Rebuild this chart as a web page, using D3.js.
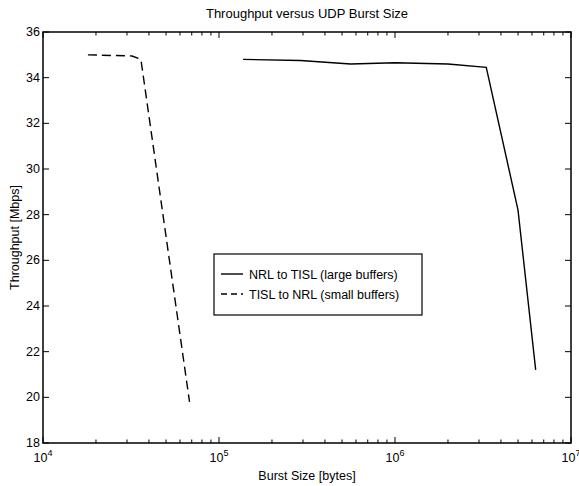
<!DOCTYPE html>
<html><head><meta charset="utf-8">
<script src="https://cdn.jsdelivr.net/npm/d3@7"></script>
<style>body{margin:0;background:#fff}text{font-family:"Liberation Sans",Arial,sans-serif;fill:#000}</style>
</head><body><svg id="c" width="579" height="486"></svg>
<script>
const title = "Throughput versus UDP Burst Size";
const xLabel = "Burst Size [bytes]";
const yLabel = "Throughput [Mbps]";
const yTicks = [18,20,22,24,26,28,30,32,34,36];
const xDecades = [4,5,6,7];
const seriesNames = ["NRL to TISL (large buffers)", "TISL to NRL (small buffers)"];
const largeX = [137000, 290000, 560000, 1000000, 2000000, 3300000, 5000000, 6300000];
const largeY = [34.8, 34.75, 34.6, 34.65, 34.6, 34.45, 28.2, 21.2];
const smallX = [18000, 32000, 36000, 68000];
const smallY = [35.0, 34.95, 34.8, 19.8];

const svg = d3.select("#c");
const L=43,R=571,T=32,B=443;
const x = d3.scaleLog().domain([1e4,1e7]).range([L,R]);
const y = d3.scaleLinear().domain([18,36]).range([B,T]);
const g = svg.append("g");
const FS = 12.5;

const minor=[];
for(let d=4; d<7; d++) for(let m=2;m<=9;m++) minor.push(m*Math.pow(10,d));
const major = xDecades.map(d=>Math.pow(10,d));
[B,T].forEach((yy,i)=>{
  const s = i===0?-1:1;
  g.selectAll(null).data(minor).enter().append("line")
    .attr("x1",d=>x(d)).attr("x2",d=>x(d)).attr("y1",yy).attr("y2",yy+s*3.5)
    .attr("stroke","#000").attr("stroke-width",1);
  g.selectAll(null).data(major).enter().append("line")
    .attr("x1",d=>x(d)).attr("x2",d=>x(d)).attr("y1",yy).attr("y2",yy+s*6)
    .attr("stroke","#000").attr("stroke-width",1);
});
[L,R].forEach((xx,i)=>{
  const s = i===0?1:-1;
  g.selectAll(null).data(yTicks).enter().append("line")
    .attr("x1",xx).attr("x2",xx+s*6).attr("y1",d=>y(d)).attr("y2",d=>y(d))
    .attr("stroke","#000").attr("stroke-width",1);
});
g.append("rect").attr("x",L).attr("y",T).attr("width",R-L).attr("height",B-T)
  .attr("fill","none").attr("stroke","#000").attr("stroke-width",1.5);

g.selectAll(null).data(yTicks).enter().append("text")
  .attr("x",L-3).attr("y",d=>y(d)+4).attr("text-anchor","end").attr("font-size",FS).text(d=>d);
xDecades.forEach(d=>{
  const t = g.append("text").attr("x",x(Math.pow(10,d))).attr("y",B+19).attr("text-anchor","middle").attr("font-size",FS);
  t.append("tspan").text("10");
  t.append("tspan").attr("dy",-6).attr("font-size",9).text(d);
});
svg.append("text").attr("x",(L+R)/2).attr("y",18).attr("text-anchor","middle").attr("font-size",13).text(title);
svg.append("text").attr("x",(L+R)/2).attr("y",B+37).attr("text-anchor","middle").attr("font-size",FS).text(xLabel);
svg.append("text").attr("transform",`translate(19,${(T+B)/2}) rotate(-90)`).attr("text-anchor","middle").attr("font-size",FS).text(yLabel);

const line = d3.line().x(d=>x(d[0])).y(d=>y(d[1]));
g.append("path").datum(largeX.map((v,i)=>[v,largeY[i]])).attr("d",line)
  .attr("fill","none").attr("stroke","#000").attr("stroke-width",1.4);
g.append("path").datum(smallX.map((v,i)=>[v,smallY[i]])).attr("d",line)
  .attr("fill","none").attr("stroke","#000").attr("stroke-width",1.4).attr("stroke-dasharray","9,5");

const lx=214, ly=254, lw=208, lh=61;
const lg = svg.append("g");
lg.append("rect").attr("x",lx).attr("y",ly).attr("width",lw).attr("height",lh).attr("fill","#fff").attr("stroke","#000").attr("stroke-width",1.2);
seriesNames.forEach((n,i)=>{
  const yy = ly+20+i*20;
  lg.append("line").attr("x1",lx+7).attr("x2",lx+29).attr("y1",yy).attr("y2",yy)
    .attr("stroke","#000").attr("stroke-width",1.4).attr("stroke-dasharray",i?"6,4":null);
  lg.append("text").attr("x",lx+35).attr("y",yy+4.5).attr("font-size",FS).text(n);
});
</script></body></html>
